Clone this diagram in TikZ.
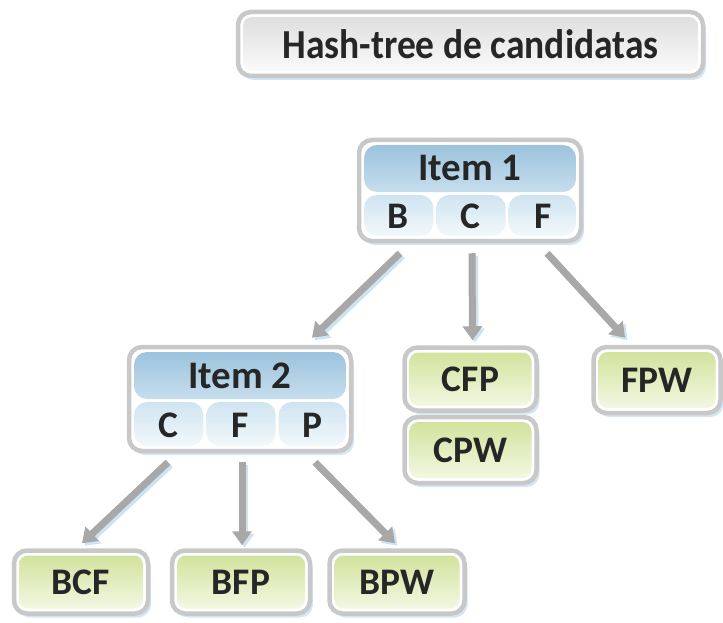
\documentclass[tikz,border=0pt]{standalone}
\usepackage{fontspec}
\setmainfont{Carlito}
\usetikzlibrary{arrows.meta,shadows}

\definecolor{rimgray}{HTML}{C8C8C8}
\definecolor{ink}{HTML}{262626}
\definecolor{shadowblue}{HTML}{CFE2F2}
\definecolor{headtop}{HTML}{9CC3DD}
\definecolor{headbot}{HTML}{C6DEED}
\definecolor{celltop}{HTML}{CFE4F0}
\definecolor{cellbot}{HTML}{F2F8FB}
\definecolor{greentop}{HTML}{CFE197}
\definecolor{greenbot}{HTML}{F6F9E8}
\definecolor{titletop}{HTML}{DCDCDC}
\definecolor{titlebot}{HTML}{FCFCFC}
\definecolor{arrowgray}{HTML}{A8A8A8}

% point measured from the top-left / bottom-left corner of a node's path
\newcommand\ppt[2]{([shift={(#1pt,-#2pt)}]path picture bounding box.north west)}
\newcommand\ppb[2]{([shift={(#1pt,#2pt)}]path picture bounding box.south west)}

\tikzset{
  frame/.style={draw=rimgray, line width=4.5pt, fill=white, rounded corners=13pt,
    inner sep=0pt,
    drop shadow={shadow xshift=3pt, shadow yshift=-4pt, fill=shadowblue, opacity=0.9}},
  txt/.style={font=\bfseries\fontsize{37.5}{37.5}\selectfont, text=ink, inner sep=0pt},
  bigtxt/.style={txt, font=\bfseries\fontsize{39}{39}\selectfont},
  leaf/.style={frame, txt, path picture={
      \shade[top color=greentop, bottom color=greenbot, rounded corners=9pt]
        ([shift={(5pt,-5pt)}]path picture bounding box.north west) rectangle
        ([shift={(-5pt,5pt)}]path picture bounding box.south east);}},
  titlebox/.style={frame, txt, path picture={
      \shade[top color=titletop, bottom color=titlebot, rounded corners=9pt]
        ([shift={(5pt,-5pt)}]path picture bounding box.north west) rectangle
        ([shift={(-5pt,5pt)}]path picture bounding box.south east);}},
  % hash node: header band and three cells, 222pt wide
  hashbox/.style={frame, minimum width=222pt, path picture={
      \begin{scope}
        \clip[rounded corners=9pt] \ppt{5}{5} rectangle \ppb{217}{5};
        \shade[top color=headtop, bottom color=headbot] \ppt{5}{5} rectangle \ppt{217}{52};
        \shade[top color=celltop, bottom color=cellbot] \ppt{5}{55} rectangle \ppb{74.3}{5};
        \shade[top color=celltop, bottom color=cellbot] \ppt{77.3}{55} rectangle \ppb{146.7}{5};
        \shade[top color=celltop, bottom color=cellbot] \ppt{149.7}{55} rectangle \ppb{217}{5};
      \end{scope}}},
  arr/.style={draw=arrowgray, line width=7pt,
    -{Triangle[length=14pt,width=19pt]}},
  arrshadow/.style={draw=shadowblue, line width=7pt,
    -{Triangle[length=14pt,width=19pt]}, transform canvas={shift={(2.5pt,-2.5pt)}}},
}

\begin{document}
\begin{tikzpicture}[x=1pt, y=-1pt]
  \useasboundingbox (0,0) rectangle (723,623);

  % title
  \node[titlebox, minimum width=465pt, minimum height=64pt] (title) at (470.5,44)
    {\scalebox{1}[1.1]{Hash-tree de candidatas}};

  % first level of the hash tree
  \node[hashbox, minimum height=101pt] (item1) at (470,190.5) {};
  \node[bigtxt] (item1h) at (470,168) {Item 1};
  \node[txt] (item1b) at (398,216) {B};
  \node[txt] (item1c) at (470,216) {C};
  \node[txt] (item1f) at (543,216) {F};

  % second level
  \node[hashbox, minimum height=104pt] (item2) at (240,399) {};
  \node[bigtxt] (item2h) at (240,376) {Item 2};
  \node[txt] (item2c) at (168,425) {C};
  \node[txt] (item2f) at (240,425) {F};
  \node[txt] (item2p) at (312,425) {P};

  % candidate leaves
  \node[leaf, minimum width=132pt, minimum height=63pt] (cfp) at (470.5,379) {CFP};
  \node[leaf, minimum width=132pt, minimum height=66pt] (cpw) at (470.5,450) {CPW};
  \node[leaf, minimum width=127pt, minimum height=66pt] (fpw) at (657,380) {FPW};
  \node[leaf, minimum width=134pt, minimum height=63pt] (bcf) at (81,582) {BCF};
  \node[leaf, minimum width=138pt, minimum height=63pt] (bfp) at (241,582) {BFP};
  \node[leaf, minimum width=135pt, minimum height=63pt] (bpw) at (397,582) {BPW};

  % connectors
  \foreach \s in {arrshadow, arr} {
    \draw[\s] ([shift={(-70pt,-10pt)}]item1.south) -- ([shift={(72pt,7pt)}]item2.north);
    \draw[\s] ([shift={(2pt,-10pt)}]item1.south) -- ([shift={(2pt,5pt)}]cfp.north);
    \draw[\s] ([shift={(77pt,-10pt)}]item1.south) -- ([shift={(-32pt,7pt)}]fpw.north);
    \draw[\s] ([shift={(-72pt,-9pt)}]item2.south) -- ([shift={(1pt,5pt)}]bcf.north);
    \draw[\s] ([shift={(2pt,-9pt)}]item2.south) -- ([shift={(1pt,3pt)}]bfp.north);
    \draw[\s] ([shift={(75pt,-9pt)}]item2.south) -- ([shift={(-2pt,5pt)}]bpw.north);
  }
\end{tikzpicture}
\end{document}
